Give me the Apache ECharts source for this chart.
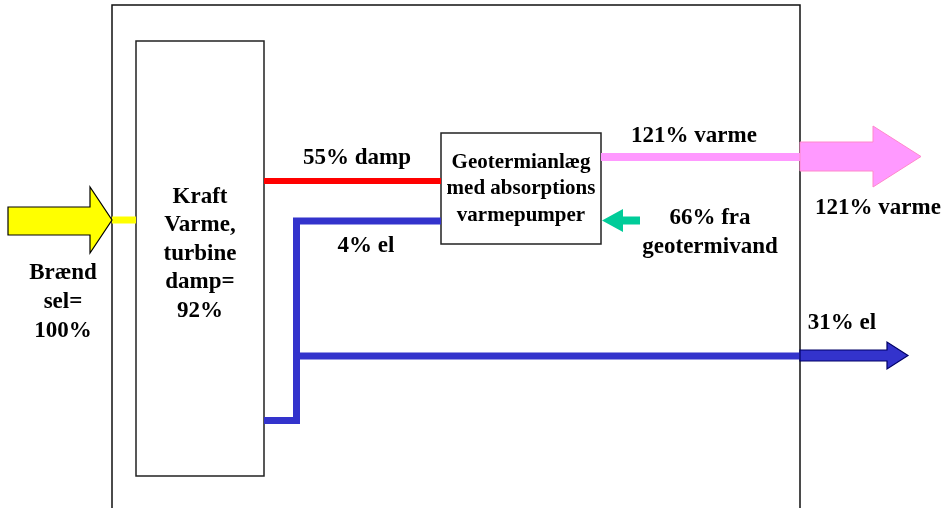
<!DOCTYPE html>
<html>
<head>
<meta charset="utf-8">
<script src="https://cdn.jsdelivr.net/npm/echarts@6/dist/echarts.min.js"></script>
<style>
html,body{margin:0;padding:0;background:#fff;}
#chart{width:946px;height:508px;}
</style>
</head>
<body>
<div id="chart"></div>
<script>
// ---- data ----
const nodeNames = ['Kraft\nVarme,\nturbine\ndamp=', 'Geotermianlæg\nmed absorptions\nvarmepumper'];
const nodeValues = [92, null];
const flowNames = ['Brænd\nsel=', 'damp', 'el', 'varme', 'fra\ngeotermivand', 'el', 'varme'];
const flowValues = [100, 55, 4, 121, 66, 31, 121];
const flowLabelStyle = ['nameFirst', 'valueFirst', 'valueFirst', 'valueFirst', 'valueFirst', 'valueFirst', 'valueFirst'];

function flowText(i) {
  return flowLabelStyle[i] === 'nameFirst'
    ? flowNames[i] + '\n' + flowValues[i] + '%'
    : flowValues[i] + '% ' + flowNames[i];
}
function nodeText(i) {
  return nodeValues[i] == null ? nodeNames[i] : nodeNames[i] + '\n' + nodeValues[i] + '%';
}

// ---- layout (diagram coordinate system, separate from data) ----
const frameLayout = [[112, 510], [112, 5], [800, 5], [800, 510]];
const nodeLayout = [
  { box: [136, 41, 264, 476], text: [200, 254], size: 23, lh: 28.5 },
  { box: [441, 133, 601, 244], text: [521, 189], size: 21, lh: 26.5 }
];
const pipeLayout = [
  { pts: [[112, 220], [136, 220]], color: '#FFFF00', w: 7 },
  { pts: [[264, 181], [441, 181]], color: '#FF0000', w: 6 },
  { pts: [[264, 420.5], [296.5, 420.5], [296.5, 221], [441, 221]], color: '#3333CC', w: 7 },
  { pts: [[296.5, 356], [800, 356]], color: '#3333CC', w: 7 },
  { pts: [[601, 157], [800, 157]], color: '#FF99FF', w: 8 }
];
const arrowLayout = [
  { pts: [[8, 207], [90, 207], [90, 187], [112, 220], [90, 253], [90, 235], [8, 235]], fill: '#FFFF00', stroke: '#000', lw: 1.2 },
  { pts: [[800, 142], [873, 142], [873, 126], [921, 156.5], [873, 187], [873, 171], [800, 171]], fill: '#FF99FF', stroke: '#FF88CC', lw: 1 },
  { pts: [[800, 350], [887, 350], [887, 342], [908, 355.5], [887, 369], [887, 361], [800, 361]], fill: '#3333CC', stroke: '#000066', lw: 1.2 },
  { pts: [[640, 216.5], [623, 216.5], [623, 209], [602, 220.5], [623, 232], [623, 224.5], [640, 224.5]], fill: '#00CC99', stroke: null, lw: 0 }
];
const flowTextLayout = [[63, 302], [357, 158], [366, 246], [694, 136], [710, 233], [842, 323], [878, 208]];

const FONT = '"Liberation Serif", "Times New Roman", serif';

const chart = echarts.init(document.getElementById('chart'), null, { renderer: 'canvas' });

function poly(api, pts) { return pts.map(p => api.coord(p)); }

const option = {
  backgroundColor: '#ffffff',
  animation: false,
  grid: { left: 0, right: 0, top: 0, bottom: 0 },
  xAxis: { type: 'value', min: 0, max: 946, show: false },
  yAxis: { type: 'value', min: 0, max: 508, inverse: true, show: false },
  series: [
    { // frame
      type: 'custom', coordinateSystem: 'cartesian2d', silent: true, z: 1,
      data: [0],
      renderItem: (params, api) => ({
        type: 'polyline',
        shape: { points: poly(api, frameLayout) },
        style: { stroke: '#111', lineWidth: 1.5, fill: null }
      })
    },
    { // nodes
      type: 'custom', coordinateSystem: 'cartesian2d', silent: true, z: 2,
      data: nodeNames.map((_, i) => i),
      renderItem: (params, api) => {
        const i = params.dataIndex;
        const L = nodeLayout[i];
        const p0 = api.coord([L.box[0], L.box[1]]);
        const p1 = api.coord([L.box[2], L.box[3]]);
        const c = api.coord(L.text);
        return {
          type: 'group',
          children: [
            { type: 'rect', shape: { x: p0[0], y: p0[1], width: p1[0] - p0[0], height: p1[1] - p0[1] },
              style: { fill: '#fff', stroke: '#222', lineWidth: 1.5 } },
            { type: 'text', x: c[0], y: c[1],
              style: { text: nodeText(i), fill: '#000', font: 'bold ' + L.size + 'px ' + FONT,
                       lineHeight: L.lh, align: 'center', verticalAlign: 'middle' } }
          ]
        };
      }
    },
    { // pipes
      type: 'custom', coordinateSystem: 'cartesian2d', silent: true, z: 3,
      data: pipeLayout.map((_, i) => i),
      renderItem: (params, api) => {
        const L = pipeLayout[params.dataIndex];
        return { type: 'polyline', shape: { points: poly(api, L.pts) },
                 style: { stroke: L.color, lineWidth: L.w, fill: null, lineJoin: 'miter', lineCap: 'butt' } };
      }
    },
    { // arrows
      type: 'custom', coordinateSystem: 'cartesian2d', silent: true, z: 4,
      data: arrowLayout.map((_, i) => i),
      renderItem: (params, api) => {
        const L = arrowLayout[params.dataIndex];
        return { type: 'polygon', shape: { points: poly(api, L.pts) },
                 style: { fill: L.fill, stroke: L.stroke, lineWidth: L.lw } };
      }
    },
    { // flow labels
      type: 'custom', coordinateSystem: 'cartesian2d', silent: true, z: 5,
      data: flowValues.map((_, i) => i),
      renderItem: (params, api) => {
        const i = params.dataIndex;
        const c = api.coord(flowTextLayout[i]);
        return { type: 'text', x: c[0], y: c[1],
                 style: { text: flowText(i), fill: '#000', font: 'bold 23px ' + FONT,
                          lineHeight: 29, align: 'center', verticalAlign: 'middle' } };
      }
    }
  ]
};
chart.setOption(option);
</script>
</body>
</html>
